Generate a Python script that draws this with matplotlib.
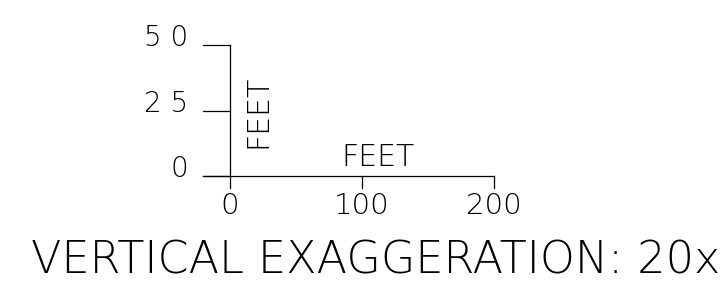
import matplotlib
matplotlib.use("Agg")
import matplotlib.pyplot as plt

# Scale-bar data
y_ticks = [0, 25, 50]
y_tick_labels = ["0", "2 5", "5 0"]
x_ticks = [0, 100, 200]
x_tick_labels = ["0", "100", "200"]
axis_unit = "FEET"
title_text = "VERTICAL EXAGGERATION: 20x"

fig = plt.figure(figsize=(7.2, 2.96), dpi=100)
ax = fig.add_axes([0, 0, 1, 1])
ax.set_xlim(-174.2, 371.2)
ax.set_ylim(-45.8, 67.2)
ax.axis("off")

font = dict(family="DejaVu Sans", fontweight=200, color="black")
lw = 0.9
left_tick = -20.5
down_tick = -4.6

# vertical bar
ax.plot([0, 0], [down_tick, max(y_ticks)], color="black", lw=lw)
# horizontal bar
ax.plot([left_tick, max(x_ticks)], [0, 0], color="black", lw=lw)
# left ticks
for yt, lab in zip(y_ticks, y_tick_labels):
    ax.plot([left_tick, 0], [yt, yt], color="black", lw=lw)
    ax.text(-31.8, yt + 2.6, lab, ha="right", va="center", fontsize=20, **font)
# down ticks
for xt, lab in zip(x_ticks, x_tick_labels):
    if xt != 0:
        ax.plot([xt, xt], [0, down_tick], color="black", lw=lw)
    ax.text(xt, -11.5, lab, ha="center", va="center", fontsize=21, **font)

ax.text(112, 6.9, axis_unit, ha="center", va="center", fontsize=21.5, **font)
ax.text(20.8, 24.8, axis_unit, ha="center", va="center", rotation=90, fontsize=21.5, **font)
ax.text(110.6, -32.4, title_text, ha="center", va="center", fontsize=32, **font)

fig.savefig("out.png", dpi=100, facecolor="white")
